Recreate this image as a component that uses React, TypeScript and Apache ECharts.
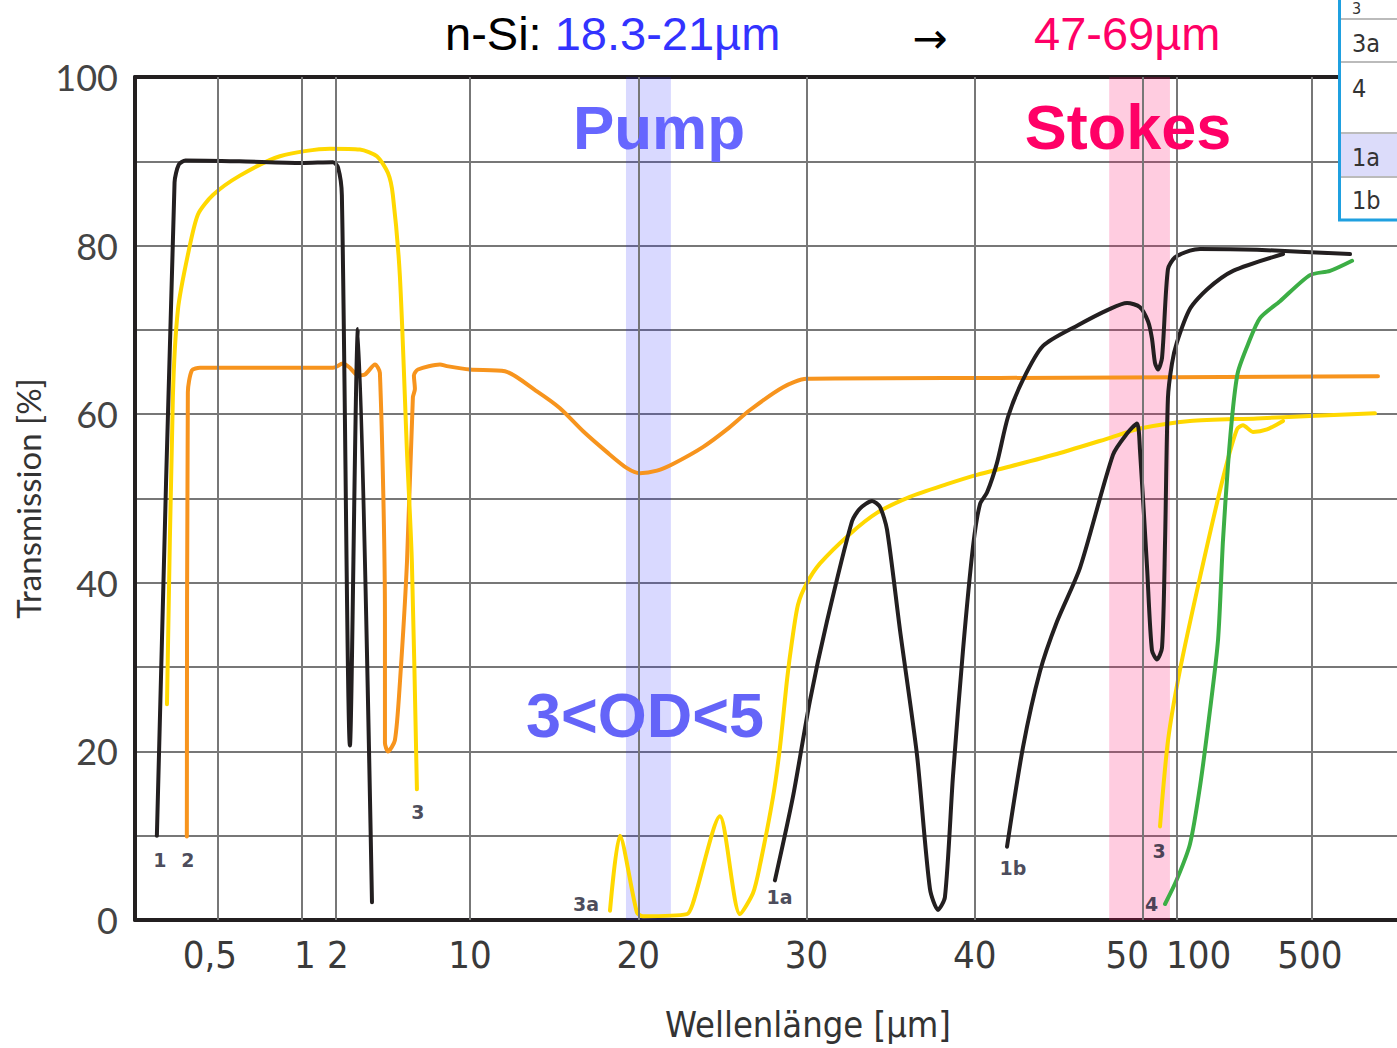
import React, { useEffect, useRef } from "react";
import * as echarts from "echarts";

// x axis is a stitched "scale position": 1 µm -> 0, 10 µm -> 10, ... (as in the original figure)
const xGridPositions = [-5, 0, 2, 10, 20, 30, 40, 50, 52, 60];
const xLabelPositions = [-5.45, 0.2, 2.16, 10, 20, 30, 40, 49.05, 53.3, 59.9];
const xLabelTexts = ["0,5", "1", "2", "10", "20", "30", "40", "50", "100", "500"];

const pumpBand = [19.27, 21.94];
const stokesBand = [47.98, 51.59];

const curve1 = [[-8.6, 10], [-7.55, 87.5], [-7.3, 89.6], [-6.9, 90.1], [-3.7, 90], [0, 89.8], [1.86, 89.9], [2.16, 89.3], [2.39, 86], [2.87, 20.7], [3.35, 70.1], [4.18, 2.1]];

const curve2 = [[-6.82, 9.9], [-6.76, 62.6], [-6.52, 65.2], [-6.04, 65.5], [1.86, 65.5], [2.45, 66], [2.87, 65.5], [3.35, 64.6], [3.76, 64.7], [4.36, 65.9], [4.65, 64.9], [4.95, 36], [4.95, 21], [5.13, 20], [5.54, 21.3], [5.84, 28.2], [6.26, 42.5], [6.61, 62], [6.73, 63], [6.67, 64.6], [6.91, 65.3], [8.22, 65.9], [8.63, 65.7], [10, 65.3], [12.08, 65.1], [13.98, 62.7], [15.35, 60.7], [16.71, 58], [18.14, 55.5], [19.33, 53.6], [20.1, 53], [21.11, 53.3], [22.06, 54.1], [23.84, 56.1], [25.27, 58.2], [26.64, 60.5], [28.6, 63.2], [30, 64.2], [41.5, 64.3], [63.95, 64.5]];

const curve3Left = [[-8.0, 25.6], [-7.65, 62], [-7.35, 72.4], [-6.76, 78.9], [-6.16, 83.7], [-5.27, 86], [-3.67, 88.3], [-1.29, 90.6], [1.68, 91.5], [3.46, 91.4], [4.47, 90.6], [5.13, 88.6], [5.42, 86], [5.84, 76.3], [6.26, 55.5], [6.55, 42.5], [6.85, 15.5]];

const curve3Right = [[51.0, 11.1], [51.47, 21.2], [52.18, 29.6], [53.38, 40.7], [54.74, 52.4], [55.57, 58.2], [55.93, 58.7], [56.52, 57.9], [57.36, 58.2], [58.31, 59.2]];

const curve3a = [[18.32, 1.1], [18.91, 10], [19.92, 0.9], [20.28, 0.45], [22.89, 0.7], [23.25, 2], [24.85, 12.3], [26.04, 0.7], [26.82, 3.2], [27.23, 6.5], [28.0, 14.5], [28.42, 20.5], [28.84, 28.5], [29.13, 33], [29.49, 37.4], [30, 39.9], [30.8, 42.3], [32.58, 45.8], [34.18, 48.3], [36.14, 50.2], [38.34, 51.7], [40.12, 52.8], [42.09, 53.8], [45.06, 55.4], [48.03, 57.2], [49.81, 58.3], [52.78, 59.2], [56.76, 59.5], [59.91, 59.8], [63.77, 60.1]];

const curve1a = [[28.12, 4.7], [29.19, 14.6], [30.2, 26], [31.21, 35.4], [32.7, 47.3], [33.17, 48.8], [33.89, 49.7], [34.36, 49], [34.78, 46.3], [35.55, 34.4], [36.56, 19.6], [37.33, 3.7], [37.81, 1.2], [38.22, 2.7], [38.7, 17.1], [39.29, 31.9], [39.89, 44.3], [40.3, 49.3], [40.72, 50.7], [41.31, 54.2], [41.97, 59.7], [42.86, 64.1], [44.05, 68.1], [46.07, 70.5], [48.03, 72.5], [49.04, 73.2], [49.81, 72.7], [50.29, 71], [50.52, 69], [50.7, 66.1], [50.88, 65.3], [51.12, 66.7], [51.47, 77.2], [51.89, 78.6], [52.78, 79.4], [53.38, 79.6], [56.76, 79.5], [62.29, 79]];

const curve1b = [[41.91, 8.7], [42.86, 20.5], [43.87, 29.5], [44.88, 35.4], [46.25, 41.8], [48.21, 55.2], [49.04, 57.7], [49.63, 58.9], [49.81, 55.7], [50.23, 41.8], [50.52, 32], [50.82, 30.9], [51.12, 32.3], [51.3, 45], [51.47, 61.9], [51.71, 66], [52.0, 68.5], [52.78, 72.5], [53.79, 74.8], [55.34, 77], [58.31, 79]];

const curve4 = [[51.3, 1.9], [52.0, 4.8], [52.78, 9], [53.38, 15.9], [53.97, 24.9], [54.45, 33.3], [54.74, 45], [55.04, 54], [55.34, 60.8], [55.63, 65], [56.23, 68.3], [56.94, 71.4], [58.13, 73.4], [59.91, 76.5], [61.1, 77], [62.41, 78.2]];

const curveLabels = [["1", -8.42, 7.1], ["2", -6.76, 7.1], ["3", 6.9, 12.8], ["3a", 16.9, 1.9], ["1a", 28.4, 2.7], ["1b", 42.26, 6.2], ["3", 50.94, 8.2], ["4", 50.5, 1.9]];

const legendRows = ["3", "3a", "4", "1a", "1b"];

const BLACK = "#231f20";
const YELLOW = "#ffd800";
const ORANGE = "#f7941d";
const GREEN = "#3cae45";
const NARROW = "'Liberation Sans Narrow', 'DejaVu Sans Condensed', Roboto, sans-serif";

function lineSeries(name: string, data: number[][], color: string) {
  return {
    name,
    type: "line",
    data,
    showSymbol: false,
    symbol: "none",
    smooth: 0.25,
    z: 3,
    lineStyle: { color, width: 4, cap: "round", join: "round" },
    silent: true,
  };
}

export default function App() {
  const ref = useRef<HTMLDivElement>(null);
  useEffect(() => {
    if (!ref.current) return;
    const chart = echarts.init(ref.current, null, { renderer: "svg" });
    const legendY = [8, 43, 88, 157, 200];
    const legendSize = [16, 25, 25, 25, 25];
    const option: any = {
      animation: false,
      backgroundColor: "#ffffff",
      grid: { left: 135, right: 0, top: 77, bottom: 128, containLabel: false, outerBoundsMode: "none" },
      xAxis: [
        {
          type: "value",
          min: -9.9,
          max: 65.08,
          axisLine: { show: true, onZero: false, lineStyle: { color: BLACK, width: 4 } },
          axisTick: { show: false },
          splitLine: { show: false },
          axisLabel: {
            customValues: xLabelPositions,
            formatter: (v: number) => {
              const i = xLabelPositions.findIndex((p) => Math.abs(p - v) < 1e-6);
              return i >= 0 ? xLabelTexts[i] : "";
            },
            fontFamily: NARROW,
            fontSize: 38,
            color: "#3a3a3a",
            margin: 16,
          },
        },
        {
          type: "value",
          position: "top",
          min: -9.9,
          max: 65.08,
          axisLine: { show: true, onZero: false, lineStyle: { color: BLACK, width: 4 } },
          axisTick: { show: false },
          axisLabel: { show: false },
          splitLine: { show: false },
        },
      ],
      yAxis: {
        type: "value",
        min: 0,
        max: 100,
        interval: 10,
        name: "Transmission [%]",
        nameLocation: "middle",
        nameRotate: 90,
        nameGap: 88,
        nameTextStyle: { fontFamily: "Lato", fontSize: 33, color: "#333333" },
        axisLine: { show: true, onZero: false, lineStyle: { color: BLACK, width: 4 } },
        axisTick: { show: false },
        axisLabel: {
          formatter: (v: number) => (v % 20 === 0 ? String(v) : ""),
          fontFamily: "Lato",
          fontSize: 36,
          color: "#444444",
          margin: 17,
        },
        splitLine: { show: true, lineStyle: { color: "#777777", width: 2 } },
      },
      series: [
        {
          name: "grid",
          type: "line",
          data: [],
          z: 1,
          silent: true,
          markLine: {
            silent: true,
            symbol: ["none", "none"],
            label: { show: false },
            lineStyle: { color: "#777777", width: 2, type: "solid" },
            data: xGridPositions.map((p) => ({ xAxis: p })),
          },
        },
        lineSeries("3a", curve3a, YELLOW),
        lineSeries("2", curve2, ORANGE),
        lineSeries("3", curve3Left, YELLOW),
        lineSeries("3", curve3Right, YELLOW),
        lineSeries("4", curve4, GREEN),
        lineSeries("1", curve1, BLACK),
        lineSeries("1a", curve1a, BLACK),
        lineSeries("1b", curve1b, BLACK),
        {
          name: "labels",
          type: "scatter",
          symbolSize: 1,
          z: 4,
          silent: true,
          itemStyle: { color: "rgba(0,0,0,0)" },
          data: curveLabels.map((l) => ({ value: [l[1], l[2]], name: l[0] })),
          label: {
            show: true,
            position: "inside",
            formatter: (p: any) => p.name,
            fontFamily: "DejaVu Sans",
            fontWeight: "bold",
            fontSize: 19,
            color: "#1c1c30",
          },
        },
        {
          name: "bands",
          type: "line",
          data: [],
          z: 10,
          silent: true,
          markArea: {
            silent: true,
            data: [
              [
                { xAxis: pumpBand[0], yAxis: 0, itemStyle: { color: "rgba(30,30,255,0.17)" } },
                { xAxis: pumpBand[1], yAxis: 100 },
              ],
              [
                { xAxis: stokesBand[0], yAxis: 0, itemStyle: { color: "rgba(255,0,100,0.2)" } },
                { xAxis: stokesBand[1], yAxis: 100 },
              ],
            ],
          },
        },
      ],
      graphic: [
        {
          type: "text",
          z: 50,
          x: 445,
          y: 33,
          style: {
            text: "{k|n-Si: }{b|18.3-21µm}",
            verticalAlign: "middle",
            align: "left",
            rich: {
              k: { fontFamily: "Liberation Sans", fontSize: 47, fill: "#000000" },
              b: { fontFamily: "Liberation Sans", fontSize: 47, fill: "#3333ff" },
            },
          },
        },
        {
          type: "text",
          z: 50,
          x: 930,
          y: 38,
          style: { text: "→", fontFamily: "DejaVu Sans", fontSize: 42, fill: "#000000", align: "center", verticalAlign: "middle" },
        },
        {
          type: "text",
          z: 50,
          x: 1034,
          y: 33,
          style: { text: "47-69µm", fontFamily: "Liberation Sans", fontSize: 47, fill: "#ff0066", align: "left", verticalAlign: "middle" },
        },
        {
          type: "text",
          z: 50,
          x: 659,
          y: 127,
          style: { text: "Pump", fontFamily: "Liberation Sans", fontWeight: "bold", fontSize: 62, fill: "#6666ff", align: "center", verticalAlign: "middle" },
        },
        {
          type: "text",
          z: 50,
          x: 1128,
          y: 127,
          style: { text: "Stokes", fontFamily: "Liberation Sans", fontWeight: "bold", fontSize: 63, fill: "#ff0066", align: "center", verticalAlign: "middle" },
        },
        {
          type: "text",
          z: 50,
          x: 645,
          y: 715,
          style: { text: "3<OD<5", fontFamily: "Liberation Sans", fontWeight: "bold", fontSize: 63, fill: "#6464f8", align: "center", verticalAlign: "middle" },
        },
        {
          type: "text",
          z: 50,
          x: 808,
          y: 1024,
          style: { text: "Wellenlänge [µm]", fontFamily: NARROW, fontSize: 36, fill: "#333333", align: "center", verticalAlign: "middle" },
        },
        {
          type: "rect",
          z: 60,
          shape: { x: 1339.5, y: -4, width: 70, height: 224 },
          style: { fill: "#ffffff", stroke: "#1fa0e0", lineWidth: 3 },
        },
        {
          type: "rect",
          z: 61,
          shape: { x: 1341, y: 133, width: 56, height: 44 },
          style: { fill: "#dcdcfa" },
        },
        ...[19, 62, 133, 177].map((y) => ({
          type: "line",
          z: 62,
          shape: { x1: 1341, y1: y, x2: 1397, y2: y },
          style: { stroke: "#bbbbbb", lineWidth: 2 },
        })),
        ...legendRows.map((t, i) => ({
          type: "text",
          z: 63,
          x: 1352,
          y: legendY[i],
          style: { text: t, fontFamily: NARROW, fontSize: legendSize[i], fill: "#333333", align: "left", verticalAlign: "middle" },
        })),
      ],
    };
    chart.setOption(option);
    return () => chart.dispose();
  }, []);
  return (
    <div
      ref={ref}
      style={{ position: "absolute", left: 0, top: 0, width: 1397, height: 1048 }}
    />
  );
}
